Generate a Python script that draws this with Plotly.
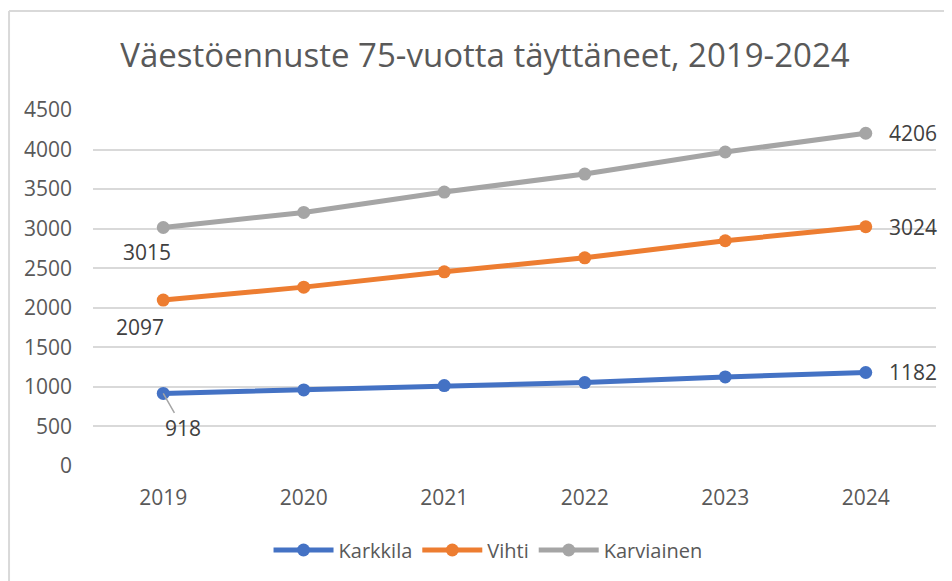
import plotly.graph_objects as go

years = ["2019", "2020", "2021", "2022", "2023", "2024"]
karkkila = [918, 962, 1016, 1054, 1126, 1182]
vihti = [2097, 2261, 2455, 2632, 2847, 3024]
karviainen = [3015, 3205, 3463, 3690, 3969, 4206]
series_names = ["Karkkila", "Vihti", "Karviainen"]
colors = ["#4472C4", "#ED7D31", "#A5A5A5"]
title_text = "Väestöennuste 75-vuotta täyttäneet, 2019-2024"
y_ticks = [0, 500, 1000, 1500, 2000, 2500, 3000, 3500, 4000, 4500]

FONT = "Open Sans"
W, H = 944, 573  # page body has an 8px margin
fig = go.Figure()
for name, vals, col in zip(series_names, [karkkila, vihti, karviainen], colors):
    fig.add_trace(go.Scatter(
        x=years, y=vals, name=name, mode="lines+markers",
        line=dict(color=col, width=5),
        marker=dict(color=col, size=13),
    ))

first_i = 0
last_i = len(years) - 1
lab_font = dict(family=FONT, size=21, color="#404040")
# first-point labels
fig.add_annotation(x=first_i, y=karviainen[0], text=str(karviainen[0]), showarrow=False,
                   xshift=-16, yshift=-25, font=lab_font)
fig.add_annotation(x=first_i, y=vihti[0], text=str(vihti[0]), showarrow=False,
                   xshift=-23, yshift=-27, font=lab_font)
fig.add_annotation(x=first_i, y=karkkila[0], text=str(karkkila[0]), showarrow=True,
                   ax=20, ay=35, arrowhead=0, arrowwidth=1.5, arrowcolor="#A5A5A5",
                   font=lab_font)
# last-point labels
for vals in [karviainen, vihti, karkkila]:
    fig.add_annotation(x=last_i, y=vals[-1], text=str(vals[-1]), showarrow=False,
                       xshift=47, yshift=0, font=lab_font)

# outer chart border (top and left edges visible)
fig.add_shape(type="line", xref="paper", yref="paper", x0=-0.0996, x1=1.03, y0=1.278, y1=1.278,
              line=dict(color="#D9D9D9", width=2))
fig.add_shape(type="line", xref="paper", yref="paper", x0=-0.0996, x1=-0.0996, y0=1.278, y1=-0.33,
              line=dict(color="#D9D9D9", width=2))

fig.update_layout(
    width=W, height=H,
    margin=dict(l=85, r=16, t=102, b=115),
    paper_bgcolor="white", plot_bgcolor="white",
    title=dict(text=title_text, x=477 / W, xref="container", xanchor="center",
               y=1 - 47 / H, yanchor="middle",
               font=dict(family=FONT, size=33, color="#595959")),
    xaxis=dict(type="category", range=[-0.5, len(years) - 0.5], showgrid=False,
               showline=False, zeroline=False,
               ticks="", tickfont=dict(family=FONT, size=21, color="#595959"),
               ticklabelstandoff=17),
    yaxis=dict(range=[0, 4500], tickvals=y_ticks, showgrid=True, gridcolor="#D9D9D9",
               gridwidth=1.5, zeroline=False, showline=False, ticks="",
               tickfont=dict(family=FONT, size=21, color="#595959"), ticklabelstandoff=20),
    legend=dict(orientation="h", x=0.4686, xanchor="center", y=-0.236, yanchor="middle",
                font=dict(family=FONT, size=20, color="#595959"), itemwidth=60,
                traceorder="normal"),
    showlegend=True,
)

fig.write_html("out.html")
